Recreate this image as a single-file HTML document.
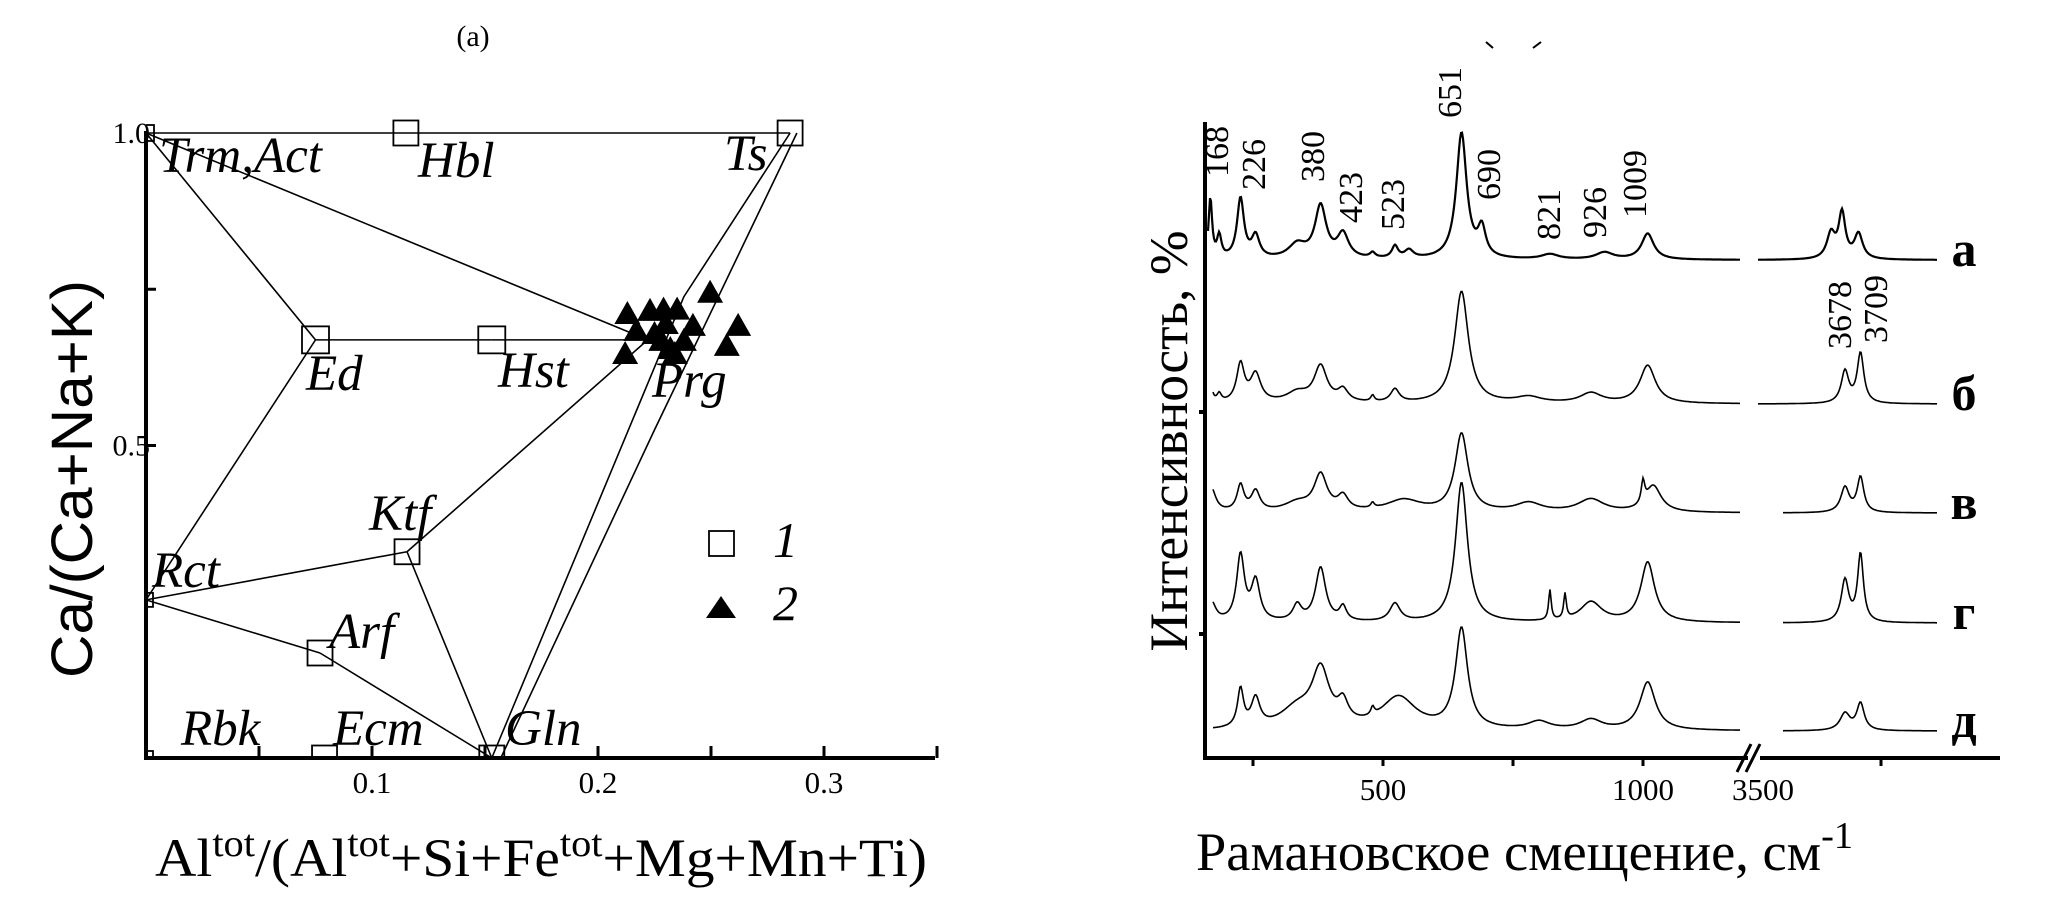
<!DOCTYPE html>
<html><head><meta charset="utf-8">
<style>
html,body{margin:0;padding:0;background:#fff;}
svg{display:block;}
.it{font-family:"Liberation Serif",serif;font-style:italic;}
.sr{font-family:"Liberation Serif",serif;}
</style></head>
<body>
<svg id="fig" width="2067" height="904" viewBox="0 0 2067 904" xmlns="http://www.w3.org/2000/svg">
<g id="left"></g>
<g id="right"></g>
</svg>
<script>
// ---------- Left diagram data ----------
const emNames = ["Trm,Act","Hbl","Ts","Ed","Hst","Prg","Ktf","Rct","Arf","Rbk","Ecm","Gln"];
const emX = [0,0.115,0.285,0.075,0.153,0.222,0.1155,0,0.077,0,0.079,0.153];
const emY = [1,1,1,0.669,0.669,0.669,0.33,0.253,0.168,0,0,0];
const tieFrom = ["Trm,Act","Trm,Act","Trm,Act","Ed","Hst","Ed","Rct","Ktf","Rct","Arf","Ktf"];
const tieTo   = ["Ts","Prg","Ed","Hst","Prg","Rct","Ktf","Prg","Arf","Gln","Gln"];
const sampleX = [0.213,0.223,0.229,0.235,0.217,0.242,0.2496,0.262,0.257,0.212,0.228,0.232,0.238,0.225,0.234,0.230];
const sampleY = [0.712,0.717,0.719,0.719,0.685,0.693,0.746,0.693,0.661,0.648,0.669,0.656,0.669,0.680,0.648,0.696];
const xTicks = [0.1,0.2,0.3];
const yTicks = [0.5,1.0];

// ---------- Right spectra data ----------
const specNames = ["а","б","в","г","д"];
const specBase = [260,404,513,623,731];
const posA=[168,185,226,255,335,380,423,480,523,550,651,690,821,926,1009];
const hA  =[60,22,60,22,14,52,24,5,12,8,126,28,5,7,26];
const wA  =[4,5,8,9,20,13,13,6,7,10,12,9,20,20,14];
const ohPosA=[3650,3672,3705], ohHA=[25,45,25], ohWA=[10,8,10];
const posB=[168,185,226,255,335,380,423,480,523,651,780,900,1009];
const hB  =[22,8,38,28,10,36,12,6,13,112,6,10,38];
const wB  =[4,5,9,12,25,15,12,4,10,16,30,25,18];
const ohPosB=[3678,3709], ohHB=[32,50], ohWB=[9,8];
const posV=[170,226,255,335,380,423,480,540,651,780,900,1000,1020];
const hV  =[24,26,20,9,36,14,5,12,78,9,13,22,26];
const wV  =[10,8,10,30,15,12,4,40,15,30,30,4,18];
const ohPosV=[3678,3709], ohHV=[25,35], ohWV=[10,8];
const posG=[170,226,255,335,380,423,523,651,821,850,900,1009];
const hG  =[20,66,40,16,54,14,18,140,30,25,20,60];
const wG  =[10,9,10,10,12,8,12,14,3,3,25,16];
const ohPosG=[3678,3709], ohHG=[42,68], ohWG=[9,7];
const posD=[226,255,335,380,423,480,530,651,800,900,1009];
const hD  =[38,28,20,55,20,8,32,100,8,10,48];
const wD  =[7,10,40,20,12,4,40,14,25,25,18];
const ohPosD=[3678,3709], ohHD=[17,27], ohWD=[12,9];
const peakLabels=["168","226","380","423","523","651","690","821","926","1009"];
const ohLabels=["3678","3709"];
const rxTicks=[500,1000];

const NS="http://www.w3.org/2000/svg";
function mk(tag,attrs,parent){const e=document.createElementNS(NS,tag);for(const k in attrs)e.setAttribute(k,attrs[k]);parent.appendChild(e);return e;}

// ===== LEFT =====
const L=document.getElementById('left');
const X0=146, XS=2260, Y0=758, YS=625;
const lx=v=>X0+v*XS, ly=v=>Y0-v*YS;
let t=mk('text',{x:473,y:46,'font-size':30,'text-anchor':'middle',class:'sr'},L);t.textContent='(a)';


const idx=n=>emNames.indexOf(n);
for(let i=0;i<tieFrom.length;i++){
  const a=idx(tieFrom[i]),b=idx(tieTo[i]);
  const ln=mk('line',{x1:lx(emX[a]),y1:ly(emY[a]),x2:lx(emX[b]),y2:ly(emY[b]),stroke:'#000','stroke-width':1.6},L);
  
  
}
const gi=idx("Gln"), ti=idx("Ts");
let pl=mk('polyline',{points:`${lx(emX[gi])},${ly(0)} ${lx(0.238)},${ly(0.738)} ${lx(emX[ti])},${ly(1)}`,fill:'none',stroke:'#000','stroke-width':1.6},L);


pl=mk('polyline',{points:`${lx(emX[gi]+0.004)},${ly(0)} ${lx(0.225)},${ly(0.525)} ${lx(emX[ti]+0.003)},${ly(1)}`,fill:'none',stroke:'#000','stroke-width':1.6},L);


mk('clipPath',{id:'lc'},L).appendChild(document.createElementNS(NS,'rect'));
const cr=L.querySelector('#lc rect');cr.setAttribute('x',X0);cr.setAttribute('y',100);cr.setAttribute('width',900);cr.setAttribute('height',Y0-100);
const big={"Ed":27,"Hst":27,"Ktf":25,"Arf":25,"Hbl":25,"Ts":25,"Ecm":25,"Gln":25,"Trm,Act":16,"Rct":14,"Rbk":14};
for(let i=0;i<emNames.length;i++){
  if(emNames[i]==="Prg")continue;
  const s=big[emNames[i]];
  const r=mk('rect',{x:lx(emX[i])-s/2,y:ly(emY[i])-s/2,width:s,height:s,fill:'none',stroke:'#000','stroke-width':1.8,'clip-path':'url(#lc)'},L);
  
  
}
const labPos={"Trm,Act":[159,172],"Hbl":[418,177],"Ts":[724,170],"Ed":[306,390],"Hst":[498,387],"Prg":[652,397],"Ktf":[369,530],"Rct":[152,587],"Arf":[329,648],"Rbk":[181,745],"Ecm":[333,745],"Gln":[505,745]};
for(const n of emNames){
  const p=labPos[n];
  const tx=mk('text',{x:p[0],y:p[1],'font-size':51,class:'it'},L);tx.textContent=n;
  
  
}
for(let i=0;i<sampleX.length;i++){
  const cx=lx(sampleX[i]),cy=ly(sampleY[i]);
  const tr=mk('polygon',{points:`${cx-13},${cy+11} ${cx+13},${cy+11} ${cx},${cy-12}`,fill:'#000'},L);
  
  
}
let ax=mk('line',{x1:X0,y1:Y0,x2:935,y2:Y0,stroke:'#000','stroke-width':4},L);


ax=mk('line',{x1:X0,y1:131,x2:X0,y2:Y0+2,stroke:'#000','stroke-width':4},L);


for(let v=0.05;v<=0.351;v+=0.05){const tk=mk('line',{x1:lx(v),y1:Y0,x2:lx(v),y2:Y0-12,stroke:'#000','stroke-width':3},L);}
for(const v of [0.5,0.75]){const tk=mk('line',{x1:X0,y1:ly(v),x2:X0+10,y2:ly(v),stroke:'#000','stroke-width':3},L);}
for(const v of xTicks){const tl=mk('text',{x:lx(v),y:793,'font-size':31,'text-anchor':'middle',class:'sr'},L);tl.textContent=v.toFixed(1);}
for(const v of yTicks){const tl=mk('text',{x:X0+4,y:ly(v)+10,'font-size':30,'text-anchor':'end',class:'sr'},L);tl.textContent=v.toFixed(1);}
let lg=mk('rect',{x:721-12,y:543-12,width:25,height:25,fill:'none',stroke:'#000','stroke-width':1.8},L);

lg=mk('text',{x:773,y:557,'font-size':50,class:'it'},L);lg.textContent='1';

lg=mk('polygon',{points:'706,618 736,618 721,596',fill:'#000'},L);

lg=mk('text',{x:773,y:620,'font-size':50,class:'it'},L);lg.textContent='2';

let at=mk('text',{x:0,y:0,'font-size':58,'text-anchor':'middle','font-family':'Liberation Sans, sans-serif',transform:'translate(92,479) rotate(-90)',textLength:398,lengthAdjust:'spacingAndGlyphs'},L);
at.textContent='Ca/(Ca+Na+K)';

at=mk('text',{x:155,y:876,'font-size':54,class:'sr',textLength:772,lengthAdjust:'spacingAndGlyphs'},L);
at.innerHTML='Al<tspan dy="-20" font-size="38">tot</tspan><tspan dy="20">/(Al</tspan><tspan dy="-20" font-size="38">tot</tspan><tspan dy="20">+Si+Fe</tspan><tspan dy="-20" font-size="38">tot</tspan><tspan dy="20">+Mg+Mn+Ti)</tspan>';


// ===== RIGHT =====
const R=document.getElementById('right');
const RX0=1205, RXE=2000, RY0=758;
const rx=w=>1383+(w-500)*0.52;
const rxh=w=>1756+(w-3500)*0.5;
const specPos=[posA,posB,posV,posG,posD], specH=[hA,hB,hV,hG,hD], specW=[wA,wB,wV,wG,wD];
const ohP=[ohPosA,ohPosB,ohPosV,ohPosG,ohPosD], ohH=[ohHA,ohHB,ohHV,ohHG,ohHD], ohW=[ohWA,ohWB,ohWV,ohWG,ohWD];
const leftStart=[1208,1213,1213,1213,1213], rightStart=[1758,1758,1783,1783,1783];
function lor(w,P,H,W){let s=0;for(let i=0;i<P.length;i++){const d=(w-P[i])/W[i];s+=H[i]/(1+d*d);}return s;}
for(let k=0;k<5;k++){
  let pts=[];
  for(let px=leftStart[k];px<=1740;px+=1){const w=500+(px-1383)/0.52;pts.push(px+','+(specBase[k]-lor(w,specPos[k],specH[k],specW[k])).toFixed(1));}
  let p=mk('polyline',{points:pts.join(' '),fill:'none',stroke:'#000','stroke-width':k==0?2.2:1.6},R);
  
  
  pts=[];
  for(let px=rightStart[k];px<=1937;px+=1){const w=3500+(px-1756)/0.5;pts.push(px+','+(specBase[k]-lor(w,ohP[k],ohH[k],ohW[k])).toFixed(1));}
  p=mk('polyline',{points:pts.join(' '),fill:'none',stroke:'#000','stroke-width':k==0?2.2:1.6},R);
  
  
  const lt=mk('text',{x:1964,y:specBase[k]+6,'font-size':50,'font-weight':'bold','text-anchor':'middle',class:'sr'},R);
  lt.textContent=specNames[k];
  
  
}
const plX=[1217,1254,1313,1351,1393,1450,1489,1549,1595,1635];
const plB=[177,190,182,223,230,118,200,240,238,218];
for(let i=0;i<peakLabels.length;i++){
  const tx=mk('text',{x:0,y:0,'font-size':34,class:'sr',transform:`translate(${plX[i]+11},${plB[i]}) rotate(-90)`},R);
  tx.textContent=peakLabels[i];
  
  
}
const ohX=[1840,1876], ohB=[349,343];
for(let i=0;i<ohLabels.length;i++){
  const tx=mk('text',{x:0,y:0,'font-size':34,class:'sr',transform:`translate(${ohX[i]+11},${ohB[i]}) rotate(-90)`},R);
  tx.textContent=ohLabels[i];
  
  
}
ax=mk('line',{x1:RX0,y1:122,x2:RX0,y2:RY0+2,stroke:'#000','stroke-width':4},R);

ax=mk('line',{x1:RX0,y1:RY0,x2:1748,y2:RY0,stroke:'#000','stroke-width':4},R);

ax=mk('line',{x1:1760,y1:RY0,x2:RXE,y2:RY0,stroke:'#000','stroke-width':4},R);

ax=mk('path',{d:'M1737,772 L1751,744 M1746,772 L1760,744',stroke:'#000','stroke-width':3,fill:'none'},R);

for(const w of [250,500,750,1000]){const tk=mk('line',{x1:rx(w),y1:RY0,x2:rx(w),y2:RY0+8,stroke:'#000','stroke-width':3},R);}
let tk=mk('line',{x1:rxh(3750),y1:RY0,x2:rxh(3750),y2:RY0+8,stroke:'#000','stroke-width':3},R);
for(const y of [412,634]){tk=mk('line',{x1:RX0-6,y1:y,x2:RX0,y2:y,stroke:'#000','stroke-width':4},R);}
for(const w of rxTicks){const tl=mk('text',{x:rx(w),y:800,'font-size':31,'text-anchor':'middle',class:'sr'},R);tl.textContent=String(w);}
let tl=mk('text',{x:1763,y:800,'font-size':31,'text-anchor':'middle',class:'sr'},R);tl.textContent='3500';
tk=mk('path',{d:'M1486,42 L1493,48 M1541,42 L1533,48',stroke:'#000','stroke-width':2,fill:'none'},R);

at=mk('text',{x:0,y:0,'font-size':54,'text-anchor':'middle',class:'sr',transform:'translate(1187,441) rotate(-90)',textLength:421,lengthAdjust:'spacingAndGlyphs'},R);
at.textContent='Интенсивность, %';

at=mk('text',{x:1196,y:870,'font-size':54,class:'sr',textLength:657,lengthAdjust:'spacingAndGlyphs'},R);
at.innerHTML='Рамановское смещение, см<tspan dy="-22" font-size="38">-1</tspan>';

</script>
</body></html>
